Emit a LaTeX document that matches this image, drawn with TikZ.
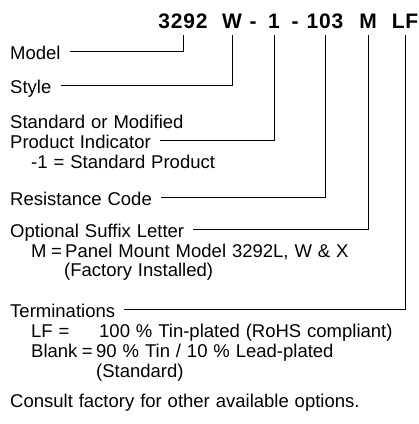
\documentclass[tikz,border=0pt]{standalone}
\usepackage{fontspec}
\setmainfont[WordSpace=1.15]{Liberation Sans}
\newfontfamily\partfont[LetterSpace=4]{Liberation Sans Bold}
\begin{document}
\begin{tikzpicture}[x=1pt,y=-1pt,
  lbl/.style={anchor=base west,inner sep=0pt,text height=16pt,text depth=0pt,font=\fontsize{18.5}{20}\selectfont},
  part/.style={anchor=base,inner xsep=0pt,inner ysep=7pt,text depth=0pt,font=\partfont\fontsize{21}{24}\selectfont},
  lead/.style={line width=0.9pt,shorten <=9pt}]
\useasboundingbox (0,0) rectangle (419,424);

% part number
\node[part] (p3292) at (183,28) {3292};
\node[part] (pW) at (232,28) {W};
\node[part] (dash1) at (253,28) {-};
\node[part] (p1) at (274,28) {1};
\node[part] (dash2) at (295,28) {-};
\node[part] (p103) at (325,28) {103};
\node[part] (pM) at (368,28) {M};
\node[part] (pLF) at (405,28) {LF};

% labels
\node[lbl] (lblModel) at (10,59) {Model};
\node[lbl] (lblStyle) at (10,93) {Style};
\node[lbl] (lblStd) at (10,128) {Standard or Modified};
\node[lbl] (lblProd) at (10,148) {Product Indicator};
\node[lbl] (lblProdVal) at (31,168) {-1 = Standard Product};
\node[lbl] (lblRes) at (10,205) {Resistance Code};
\node[lbl] (lblSuf) at (10,237) {Optional Suffix Letter};
\node[lbl] (lblSufKey) at (31,257) {M\hspace{4.5pt}=};
\node[lbl] (lblSufVal) at (65,257) {Panel Mount Model 3292L, W \& X};
\node[lbl] (lblSufVal2) at (64,276) {(Factory Installed)};
\node[lbl] (lblTerm) at (10,317) {Terminations};
\node[lbl] (lblLFKey) at (31,337) {LF =};
\node[lbl] (lblLFVal) at (99,337) {100 \% Tin-plated (RoHS compliant)};
\node[lbl] (lblBlKey) at (31,357) {Blank\hspace{4.5pt}=};
\node[lbl] (lblBlVal) at (96,357) {90 \% Tin / 10 \% Lead-plated};
\node[lbl] (lblBlVal2) at (96,377) {(Standard)};
\node[lbl] (lblNote) at (10,407) {Consult factory for other available options.};

% leaders
\foreach \lbl/\prt in {lblModel/p3292,lblStyle/pW,lblProd/p1,lblRes/p103,lblSuf/pM,lblTerm/pLF}
  {\draw[lead] (\lbl.east) -| (\prt.south);}
\end{tikzpicture}
\end{document}
